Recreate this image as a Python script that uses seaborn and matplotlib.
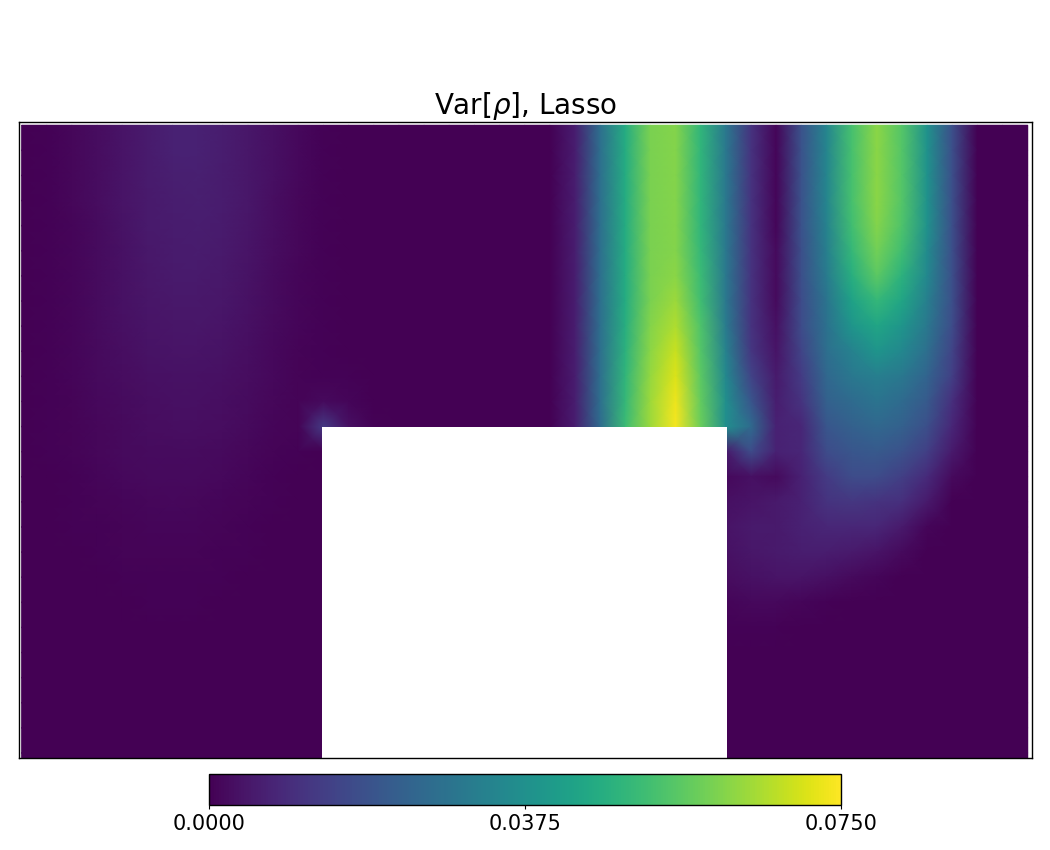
"""Var[rho] field behind a step, Lasso model."""

import matplotlib

matplotlib.use("Agg")

import matplotlib.pyplot as plt
import numpy as np
import pandas as pd
import seaborn as sns
from matplotlib.patches import Rectangle

nan = float("nan")
hole = [nan] * 15

# variance in units of 1e-3, one list per row of grid nodes
row_00 = [.2, .5, 1.2, 2.5, 4, 5.5, 6.8, 7, 6, 4.5, 3, 1.5, .5, .2, 0, 0, 0, 0, 0, 0, 0, 0, 6, 27, 46, 60, 61, 49, 30, 11, 1, 19, 34, 53, 62, 55, 38, 18, 0, 0, 0]
row_01 = [.2, .5, 1.2, 2.5, 4, 5.5, 6.8, 7, 6, 4.5, 3, 1.5, .5, .2, 0, 0, 0, 0, 0, 0, 0, 0, 6, 27, 46, 60, 61, 49, 30, 11, 1, 19, 34, 53, 62, 55, 38, 18, 0, 0, 0]
row_02 = [.2, .5, 1.2, 2.5, 4, 5.4, 6.4, 6.6, 5.8, 4.5, 3, 1.5, .5, .2, 0, 0, 0, 0, 0, 0, 0, 0, 6, 27, 46, 60, 61, 49, 30, 11, 1, 19, 34, 53, 62, 55, 38, 18, 0, 0, 0]
row_03 = [.2, .5, 1.2, 2.4, 3.9, 5.2, 6, 6.2, 5.6, 4.4, 2.8, 1.4, .5, .2, 0, 0, 0, 0, 0, 0, 0, 0, 6, 27, 46, 60, 61, 49, 30, 11, 1, 19, 34, 53, 62, 55, 38, 18, 0, 0, 0]
row_04 = [.2, .5, 1.1, 2.2, 3.7, 5, 5.7, 5.9, 5.3, 4.2, 2.7, 1.3, .4, .1, 0, 0, 0, 0, 0, 0, 0, 0, 6, 27, 46, 60, 61, 49, 30, 11, 1, 19, 33, 52, 61, 54, 38, 18, 0, 0, 0]
row_05 = [.2, .5, 1.1, 2.2, 3.5, 4.7, 5.4, 5.6, 5, 4, 2.5, 1.2, .4, .1, 0, 0, 0, 0, 0, 0, 0, 0, 6, 27, 46, 60, 61, 50, 30, 11, 2, 18, 32, 50, 59, 52, 36, 18, 0, 0, 0]
row_06 = [.2, .5, 1.1, 2.2, 3.4, 4.5, 5, 5.2, 4.7, 3.7, 2.3, 1.1, .3, .1, 0, 0, 0, 0, 0, 0, 0, 0, 6, 27, 46, 60, 62, 51, 30, 11, 2, 18, 31, 47, 56, 48, 35, 18, 0, 0, 0]
row_07 = [.2, .5, 1.1, 2.2, 3.3, 4.2, 4.7, 4.8, 4.4, 3.4, 2.1, 1, .3, .1, 0, 0, 0, 0, 0, 0, 0, 0, 6, 27, 46, 60, 64, 52, 30, 11, 2, 17, 29, 43, 50, 44, 32, 18, 0, 0, 0]
row_08 = [.1, .4, 1, 2.1, 3.1, 3.9, 4.3, 4.4, 4, 3, 1.9, .9, .3, .1, 0, 0, 0, 0, 0, 0, 0, 0, 6, 27, 47, 61, 66, 54, 31, 11, 3, 17, 28, 39, 44, 39, 30, 17, 0, 0, 0]
row_09 = [.1, .4, 1, 2, 2.9, 3.6, 3.9, 4, 3.6, 2.7, 1.7, .8, .3, .1, 0, 0, 0, 0, 0, 0, 0, 0, 6, 27, 48, 62, 69, 55, 33, 12, 4, 15, 27, 33, 39, 35, 27, 15, 0, 0, 0]
row_10 = [.1, .4, .9, 1.8, 2.6, 3.2, 3.5, 3.5, 3.2, 2.4, 1.5, .7, .4, .3, 0, 0, 0, 0, 0, 0, 0, 0, 6, 27, 49, 63, 71, 56, 35, 15, 5, 13, 25, 30, 32, 30, 24, 14, 0, 0, 0]
row_11 = [.1, .3, .8, 1.6, 2.3, 2.8, 3.1, 3.1, 2.8, 2.1, 1.3, .7, 2, 1, 0, 0, 0, 0, 0, 0, 0, 0, 6, 27, 50, 64, 73, 57, 37, 20, 6, 11, 23, 26, 29, 26, 21, 10, 0, 0, 0]
row_12 = [.1, .3, .7, 1.4, 2, 2.5, 2.7, 2.7, 2.4, 1.8, 1.1, .7, 13, 3, .3, 0, 0, 0, 0, 0, 0, 0, 6, 26, 51, 64, 74, 58, 37, 26, 7, 8, 20, 23, 25, 23, 18, 8, 0, 0, 0]
row_13 = [.1, .3, .6, 1.2, 1.8, 2.2, 2.3, 2.2, 1.9, 1.3, .8, .4, .2] + hole + [5, 17, 7, 8, 17, 20, 21, 19, 14, 5, 0, 0, 0]
row_14 = [.1, .2, .5, 1, 1.5, 1.8, 1.9, 1.8, 1.5, 1, .5, .2, .1] + hole + [1.5, 3, 2, 7, 13, 17, 17, 14, 9, 2, 0, 0, 0]
row_15 = [.1, .2, .4, .7, 1.1, 1.4, 1.5, 1.4, 1.1, .7, .3, .1, .1] + hole + [3, 4, 5, 7, 11, 12, 11, 10, 5, 0, 0, 0, 0]
row_16 = [.1, .1, .3, .5, .8, 1, 1.1, 1, .8, .4, .2, .1, .1] + hole + [4, 5, 5, 7, 8, 8, 8, 5, 1, 0, 0, 0, 0]
row_17 = [.1, .1, .2, .3, .6, .7, .8, .7, .5, .3, .1, .1, .1] + hole + [3.5, 4.5, 5, 6, 6, 5, 4, 2, 0, 0, 0, 0, 0]
row_18 = [0, .1, .1, .2, .4, .5, .5, .5, .3, .2, .1, .1, .1] + hole + [2.5, 3.5, 4, 4, 3, 2, 1, 0, 0, 0, 0, 0, 0]
row_19 = [0, 0, .1, .1, .2, .3, .3, .3, .2, .1, .1, .1, .1] + hole + [1, 1.5, 1.5, 1, .4, 0, 0, 0, 0, 0, 0, 0, 0]
row_20 = [0, 0, 0, .1, .1, .2, .2, .2, .1, .1, .1, 0, 0] + hole + [.3, .3, .3, .1, 0, 0, 0, 0, 0, 0, 0, 0, 0]
row_21 = [0, 0, 0, 0, .1, .1, .1, .1, .1, 0, 0, 0, 0] + hole + [.1, 0, 0, 0, 0, 0, 0, 0, 0, 0, 0, 0, 0]
row_22 = [0, 0, 0, 0, 0, .1, .1, .1, 0, 0, 0, 0, 0] + hole + [0, 0, 0, 0, 0, 0, 0, 0, 0, 0, 0, 0, 0]
row_23 = [0] * 13 + hole + [0] * 13
row_24 = [0] * 13 + hole + [0] * 13
row_25 = [0] * 13 + hole + [0] * 13
row_26 = [0] * 13 + hole + [0] * 13

rows = [
    row_00, row_01, row_02, row_03, row_04, row_05, row_06, row_07, row_08,
    row_09, row_10, row_11, row_12, row_13, row_14, row_15, row_16, row_17,
    row_18, row_19, row_20, row_21, row_22, row_23, row_24, row_25, row_26,
]
cbar_ticks = [0.0, 0.0375, 0.075]

field = pd.DataFrame(rows) / 1000.0

fig = plt.figure(figsize=(10.5, 8.5), dpi=100)
ax = fig.add_axes([18.5 / 1050, 1 - 758 / 850, (1032 - 18.5) / 1050, (758 - 122.5) / 850])
cax = fig.add_axes([209 / 1050, 1 - 805 / 850, 632 / 1050, 31 / 850])

sns.heatmap(
    field,
    cmap="viridis",
    vmin=0,
    vmax=0.075,
    shading="gouraud",
    xticklabels=False,
    yticklabels=False,
    ax=ax,
    cbar_ax=cax,
    cbar_kws={"orientation": "horizontal", "ticks": cbar_ticks, "format": "%.4f"},
)
ax.set_xlim(-0.125, 40.17)
ax.set_ylim(25.2, -0.11)

# the gouraud mesh fades into masked nodes, so cover the fade with the step itself
gap = np.isnan(field.to_numpy())
gap_cols = np.where(gap.any(axis=0))[0]
gap_top = np.where(gap.any(axis=1))[0][0] - 1
step_pad = 0.04
ax.add_patch(
    Rectangle(
        (gap_cols[0] - 1 - step_pad, gap_top),
        gap_cols[-1] - gap_cols[0] + 2 + 2 * step_pad,
        field.shape[0] - gap_top,
        facecolor="white",
        edgecolor="none",
        zorder=2,
    )
)

for spine in ax.spines.values():
    spine.set_visible(True)
    spine.set_color("black")
    spine.set_linewidth(1.0)
ax.set_xlabel("")
ax.set_ylabel("")
ax.set_title(r"Var[$\rho$], Lasso", fontsize=20, pad=4)

cbar = ax.collections[0].colorbar
cbar.outline.set_linewidth(1.0)
cbar.outline.set_edgecolor("black")
cbar.ax.tick_params(labelsize=15, length=3.2)

fig.savefig("out.png", dpi=100)
plt.close(fig)
